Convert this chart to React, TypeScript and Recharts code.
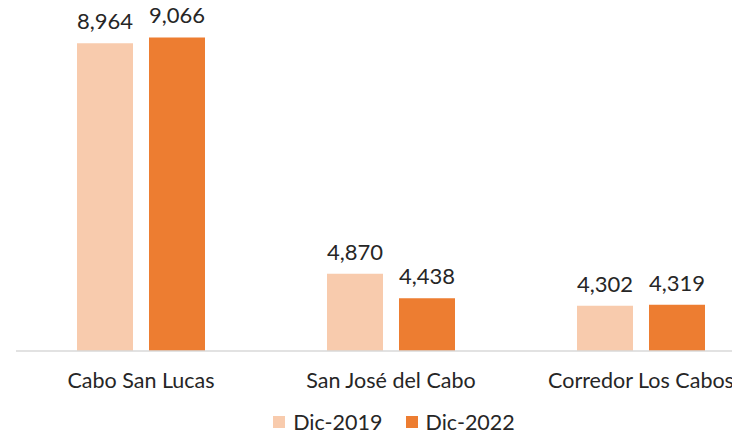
import { BarChart, Bar, XAxis, YAxis, LabelList, Legend } from 'recharts'

const categories = ['Cabo San Lucas', 'San José del Cabo', 'Corredor Los Cabos']
const dic2019 = [8964, 4870, 4302]
const dic2022 = [9066, 4438, 4319]
const seriesNames = ['Dic-2019', 'Dic-2022']

const COLORS = ['#F8CBAD', '#ED7D31']
const FONT = 'Lato, "Open Sans", sans-serif'
const TEXT = '#262626'

const data = categories.map((name, i) => ({ name, a: dic2019[i], b: dic2022[i] }))

const fmt = (v: any) => Number(v).toLocaleString('en-US')

// legend as plain squares + labels, like the Excel original
const SquareLegend = () => (
  <div style={{ display: 'flex', justifyContent: 'center', alignItems: 'center', fontFamily: FONT, fontSize: 21.5, lineHeight: '24px', color: TEXT }}>
    {seriesNames.map((n, i) => (
      <div key={n} style={{ display: 'flex', alignItems: 'center', marginRight: i === 0 ? 23 : 0 }}>
        <div style={{ width: 12, height: 12, background: COLORS[i], marginRight: 8 }} />
        <span>{n}</span>
      </div>
    ))}
  </div>
)

export default function App() {
  return (
    <div style={{ margin: -8, width: 740, height: 438, overflow: 'hidden', background: '#fff' }}>
      <BarChart
        width={770}
        height={438}
        data={data}
        barSize={56}
        barGap={16}
        margin={{ top: 13, right: 4, left: 16, bottom: 57 }}
      >
        <XAxis
          dataKey="name"
          height={30}
          axisLine={{ stroke: '#D9D9D9', strokeWidth: 1.5 }}
          tickLine={false}
          tickMargin={16}
          interval={0}
          tick={{ fill: TEXT, fontSize: 21.5, fontFamily: FONT }}
        />
        <YAxis hide domain={[3500, 9500]} allowDataOverflow />
        <Legend
          verticalAlign="middle"
          align="center"
          layout="horizontal"
          content={<SquareLegend />}
          wrapperStyle={{ top: 410, left: 0, width: 788, height: 26 }}
        />
        <Bar dataKey="a" name={seriesNames[0]} fill={COLORS[0]} isAnimationActive={false}>
          <LabelList dataKey="a" position="top" offset={14} formatter={fmt}
            style={{ fill: TEXT, fontSize: 22, fontFamily: FONT }} />
        </Bar>
        <Bar dataKey="b" name={seriesNames[1]} fill={COLORS[1]} isAnimationActive={false}>
          <LabelList dataKey="b" position="top" offset={14} formatter={fmt}
            style={{ fill: TEXT, fontSize: 22, fontFamily: FONT }} />
        </Bar>
      </BarChart>
    </div>
  )
}
